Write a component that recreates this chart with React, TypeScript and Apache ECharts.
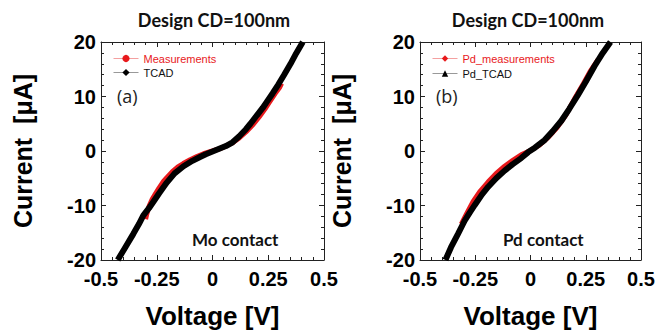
import React, { useEffect, useRef } from "react";
import * as echarts from "echarts";

const xTicks = [-0.5, 0.5, 0.25];
const yTicks = [-20, 20, 10];

const moMeasV = [-0.3, -0.295, -0.285, -0.27, -0.258, -0.24, -0.22, -0.205, -0.18, -0.155, -0.131, -0.1, -0.07, -0.04, 0, 0.03, 0.06, 0.09, 0.12, 0.15, 0.183, 0.21, 0.235, 0.256, 0.28, 0.3, 0.31];
const moMeasI = [-12.5, -11.6, -10.2, -8.8, -8.0, -6.8, -5.6, -4.9, -3.8, -2.9, -2.3, -1.6, -1.0, -0.5, 0, 0.4, 0.9, 1.5, 2.4, 3.5, 4.9, 6.3, 7.7, 9.0, 10.5, 11.6, 12.4];

const moTcadV = [-0.425, -0.39, -0.355, -0.33, -0.31, -0.285, -0.265, -0.24, -0.205, -0.17, -0.13, -0.09, -0.056, -0.03, 0, 0.03, 0.06, 0.09, 0.12, 0.15, 0.17, 0.2, 0.225, 0.245, 0.27, 0.295, 0.32, 0.35, 0.375, 0.405];
const moTcadI = [-20, -17.6, -15.2, -13.4, -11.8, -10.5, -9.3, -7.8, -5.8, -4.1, -2.8, -1.8, -1.1, -0.6, -0.1, 0.4, 0.9, 1.6, 2.7, 4.0, 5.0, 6.6, 7.9, 9.1, 10.6, 12.2, 13.9, 16.0, 17.9, 20];

const pdMeasV = [-0.313, -0.29, -0.26, -0.23, -0.192, -0.155, -0.117, -0.08, -0.042, 0, 0.04, 0.08, 0.12, 0.16, 0.204, 0.24, 0.27, 0.305];
const pdMeasI = [-13.4, -11.6, -9.3, -7.5, -5.7, -4.1, -2.8, -1.7, -0.7, 0.1, 1.1, 2.5, 4.3, 6.6, 9.9, 12.4, 14.6, 16.7];

const pdTcadV = [-0.385, -0.36, -0.328, -0.298, -0.275, -0.252, -0.22, -0.192, -0.155, -0.117, -0.08, -0.042, -0.01, 0.02, 0.064, 0.1, 0.139, 0.175, 0.215, 0.25, 0.29, 0.327, 0.362];
const pdTcadI = [-20, -17.7, -15.2, -12.8, -11.3, -9.9, -8.0, -6.6, -5.0, -3.6, -2.4, -1.3, -0.2, 0.6, 2.0, 3.6, 5.5, 7.7, 10.3, 12.7, 15.6, 18.0, 20];

const zip = (a: number[], b: number[]) => a.map((v, i) => [v, b[i]]);

const AX = "#222";
const FONT = "Liberation Sans, Arial, sans-serif";

function makeX(grid: number, pos: "bottom" | "top") {
  const main = pos === "bottom";
  return {
    type: "value",
    gridIndex: grid,
    position: pos,
    min: xTicks[0],
    max: xTicks[1],
    interval: xTicks[2],
    name: main ? "Voltage [V]" : "",
    nameLocation: "middle",
    nameGap: 43,
    nameTextStyle: { fontFamily: FONT, fontWeight: "bold", fontSize: 26, color: "#000" },
    axisLine: { show: true, onZero: false, lineStyle: { color: AX, width: 1 } },
    axisTick: { show: true, inside: true, length: 5, lineStyle: { color: AX } },
    minorTick: { show: true, splitNumber: 5, length: 3, lineStyle: { color: AX } },
    axisLabel: { show: main, fontFamily: FONT, fontWeight: "bold", fontSize: 20, color: "#000", margin: 9 },
    splitLine: { show: false },
  };
}

function makeY(grid: number, pos: "left" | "right") {
  const main = pos === "left";
  return {
    type: "value",
    gridIndex: grid,
    position: pos,
    min: yTicks[0],
    max: yTicks[1],
    interval: yTicks[2],
    name: main ? "Current  [\u03bcA]" : "",
    nameLocation: "middle",
    nameGap: 66,
    nameTextStyle: { fontFamily: FONT, fontWeight: "bold", fontSize: 25, color: "#000" },
    axisLine: { show: true, onZero: false, lineStyle: { color: AX, width: 1 } },
    axisTick: { show: true, inside: true, length: 5, lineStyle: { color: AX } },
    minorTick: { show: true, splitNumber: 5, length: 3, lineStyle: { color: AX } },
    axisLabel: { show: main, fontFamily: FONT, fontWeight: "bold", fontSize: 20, lineHeight: 14, color: "#000", margin: 5 },
    splitLine: { show: false },
  };
}

export default function App() {
  const ref = useRef<HTMLDivElement>(null);
  useEffect(() => {
    if (!ref.current) return;
    const chart = echarts.init(ref.current, undefined, { renderer: "svg" });
    const legendText = { fontFamily: FONT, fontSize: 11 };
    const titleStyle = { fontFamily: "Lato", fontWeight: "bold", fontSize: 18, color: "#111" };
    chart.setOption({
      animation: false,
      backgroundColor: "#fff",
      title: [
        { text: "Design CD=100nm", left: 214, top: 11, padding: 0, textAlign: "center", textStyle: titleStyle },
        { text: "Design CD=100nm", left: 528, top: 11, padding: 0, textAlign: "center", textStyle: titleStyle },
      ],
      grid: [
        { left: 101, top: 42, width: 223, height: 224, show: false },
        { left: 420, top: 42, width: 221, height: 225, show: false },
      ],
      xAxis: [makeX(0, "bottom"), makeX(0, "top"), makeX(1, "bottom"), makeX(1, "top")],
      yAxis: [makeY(0, "left"), makeY(0, "right"), makeY(1, "left"), makeY(1, "right")],
      legend: [
        {
          orient: "vertical",
          left: 113,
          top: 53,
          padding: 0,
          itemWidth: 25,
          itemHeight: 9,
          itemGap: 3,
          selectedMode: false,
          textStyle: legendText,
          data: [
            { name: "Measurements", textStyle: { color: "#e8191c" }, lineStyle: { width: 1, color: "#f4a0a0" } },
            { name: "TCAD", textStyle: { color: "#111" }, lineStyle: { width: 1, color: "#999" } },
          ],
        },
        {
          orient: "vertical",
          left: 432,
          top: 53,
          padding: 0,
          itemWidth: 25,
          itemHeight: 8,
          itemGap: 4,
          selectedMode: false,
          textStyle: legendText,
          data: [
            { name: "Pd_measurements", textStyle: { color: "#e8191c" }, lineStyle: { width: 1, color: "#f4a0a0" } },
            { name: "Pd_TCAD", textStyle: { color: "#111" }, lineStyle: { width: 1, color: "#999" } },
          ],
        },
      ],
      graphic: [
        { type: "text", left: 117, top: 87, style: { text: "(a)", fontFamily: "Open Sans", fontSize: 18, fill: "#222" } },
        { type: "text", left: 436, top: 87, style: { text: "(b)", fontFamily: "Open Sans", fontSize: 18, fill: "#222" } },
        { type: "text", left: 192, top: 231, style: { text: "Mo contact", fontFamily: "Lato", fontWeight: "bold", fontSize: 17, fill: "#111" } },
        { type: "text", left: 503, top: 231, style: { text: "Pd contact", fontFamily: "Lato", fontWeight: "bold", fontSize: 17, fill: "#111" } },
      ],
      series: [
        {
          name: "Measurements", type: "line", xAxisIndex: 0, yAxisIndex: 0,
          data: zip(moMeasV, moMeasI), symbol: "circle", showSymbol: false,
          itemStyle: { color: "#e8191c" }, lineStyle: { color: "#e8191c", width: 5 }, z: 2,
        },
        {
          name: "TCAD", type: "line", xAxisIndex: 0, yAxisIndex: 0,
          data: zip(moTcadV, moTcadI), symbol: "diamond", showSymbol: false,
          itemStyle: { color: "#000" }, lineStyle: { color: "#000", width: 6 }, z: 3,
        },
        {
          name: "Pd_measurements", type: "line", xAxisIndex: 2, yAxisIndex: 2,
          data: zip(pdMeasV, pdMeasI), symbol: "diamond", showSymbol: false,
          itemStyle: { color: "#e8191c" }, lineStyle: { color: "#e8191c", width: 5 }, z: 2,
        },
        {
          name: "Pd_TCAD", type: "line", xAxisIndex: 2, yAxisIndex: 2,
          data: zip(pdTcadV, pdTcadI), symbol: "triangle", showSymbol: false,
          itemStyle: { color: "#000" }, lineStyle: { color: "#000", width: 6 }, z: 3,
        },
      ],
    });
    return () => chart.dispose();
  }, []);
  return <div ref={ref} style={{ position: "fixed", left: 0, top: 0, width: 668, height: 334 }} />;
}
